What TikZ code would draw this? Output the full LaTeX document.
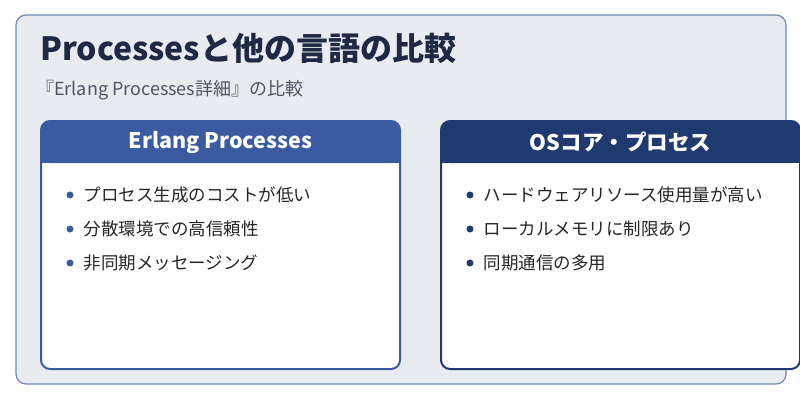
\documentclass[tikz,border=0pt]{standalone}
\usepackage{fontspec}
\setmainfont{Noto Sans CJK JP}
\definecolor{bgc}{HTML}{E8ECF1}
\definecolor{bdc}{HTML}{7088B5}
\definecolor{lc}{HTML}{3A5BA0}
\definecolor{rc}{HTML}{1F3A6E}
\definecolor{tc}{HTML}{1E2A44}
\definecolor{sc}{HTML}{4A5568}
\begin{document}
\begin{tikzpicture}[x=1pt,y=-1pt,
  head/.style={font=\fontsize{21.5}{25}\selectfont\bfseries,text=white},
  item/.style={anchor=west,font=\fontsize{17.5}{20}\selectfont,text=black!85},
  dot/.style={circle,fill=#1,inner sep=0pt,minimum size=7pt}]
\useasboundingbox (0,0) rectangle (800,400);
\fill[white] (0,0) rectangle (800,400);
\draw[draw=bdc,line width=1.2pt,fill=bgc,rounded corners=10pt] (16,15) rectangle (786,384);
\node[anchor=west,inner sep=0pt,font=\fontsize{32}{36}\selectfont\bfseries,text=tc] (title) at (40,48) {Processesと他の言語の比較};
\node[anchor=west,inner sep=0pt,font=\fontsize{18}{21}\selectfont,text=sc] (sub) at (36,90) {『Erlang Processes詳細』の比較};
% left card
\fill[white,rounded corners=9pt] (41,121) rectangle (400,369);
\fill[lc,rounded corners=9pt] (41,121) rectangle (400,163);
\fill[lc] (41,150) rectangle (400,163);
\draw[lc,line width=2pt,rounded corners=9pt] (41,121) rectangle (400,369);
\node[head] (lh) at (220.5,142) {Erlang Processes};
\node[dot=lc] (l1d) at (70,195) {};
\node[item] (l1) at (80,195) {プロセス生成のコストが低い};
\node[dot=lc] (l2d) at (70,229) {};
\node[item] (l2) at (80,229) {分散環境での高信頼性};
\node[dot=lc] (l3d) at (70,263) {};
\node[item] (l3) at (80,263) {非同期メッセージング};
% right card
\fill[white,rounded corners=9pt] (441,121) rectangle (800,369);
\fill[rc,rounded corners=9pt] (441,121) rectangle (800,163);
\fill[rc] (441,150) rectangle (800,163);
\draw[rc,line width=2pt,rounded corners=9pt] (441,121) rectangle (800,369);
\node[head] (rh) at (620.5,142) {OSコア・プロセス};
\node[dot=rc] (r1d) at (470,195) {};
\node[item] (r1) at (480,195) {ハードウェアリソース使用量が高い};
\node[dot=rc] (r2d) at (470,229) {};
\node[item] (r2) at (480,229) {ローカルメモリに制限あり};
\node[dot=rc] (r3d) at (470,263) {};
\node[item] (r3) at (480,263) {同期通信の多用};
\end{tikzpicture}
\end{document}
